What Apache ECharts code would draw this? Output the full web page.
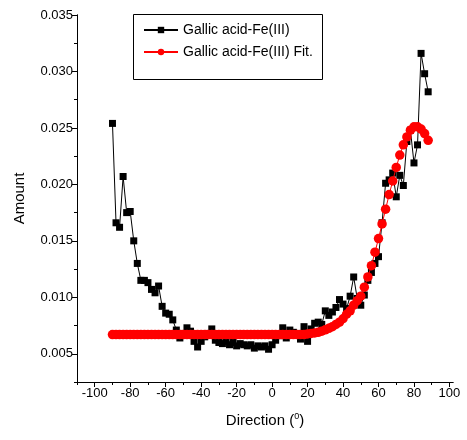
<!DOCTYPE html>
<html>
<head>
<meta charset="utf-8">
<script src="https://cdn.jsdelivr.net/npm/echarts@6/dist/echarts.min.js"></script>
<style>html,body{margin:0;padding:0;background:#fff}#c{width:467px;height:440px}</style>
</head>
<body>
<div id="c"></div>
<script>
// Direction values (degrees)
var directions = [];
for (var d = -90; d <= 88; d += 2) directions.push(d);

// Measured amounts, one per direction (-90 .. 88 step 2)
var measured = [
  0.0254, 0.0166, 0.0162, 0.0207, 0.0175, 0.0176, 0.0150, 0.0130, 0.0115, 0.0115,
  0.0113, 0.0107, 0.0104, 0.0110, 0.0092, 0.0086, 0.0085, 0.0080, 0.0071, 0.0064,
  0.0068, 0.0073, 0.0070, 0.0061, 0.0056, 0.0061, 0.0065, 0.0068, 0.0072, 0.0062,
  0.0060, 0.0059, 0.0061, 0.0058, 0.0060, 0.0057, 0.0059, 0.0058, 0.0057, 0.0058,
  0.0055, 0.0057, 0.0056, 0.0057, 0.0054, 0.0058, 0.0062, 0.0066, 0.0073, 0.0064,
  0.0071, 0.0069, 0.0068, 0.0063, 0.0074, 0.0061, 0.0072, 0.0077, 0.0078, 0.0076,
  0.0088, 0.0084, 0.0087, 0.0091, 0.0098, 0.0094, 0.0090, 0.0101, 0.0118, 0.0099,
  0.0093, 0.0102, 0.0115, 0.0122, 0.0130, 0.0136, 0.0166, 0.0201, 0.0204, 0.0210,
  0.0189, 0.0208, 0.0199, 0.0238, 0.0248, 0.0219, 0.0235, 0.0316, 0.0298, 0.0282
];

// Fitted amounts, one per direction (-90 .. 88 step 2)
var fitted = [
  0.0067, 0.0067, 0.0067, 0.0067, 0.0067, 0.0067, 0.0067, 0.0067, 0.0067, 0.0067,
  0.0067, 0.0067, 0.0067, 0.0067, 0.0067, 0.0067, 0.0067, 0.0067, 0.0067, 0.0067,
  0.0067, 0.0067, 0.0067, 0.0067, 0.0067, 0.0067, 0.0067, 0.0067, 0.0067, 0.0067,
  0.0067, 0.0067, 0.0067, 0.0067, 0.0067, 0.0067, 0.0067, 0.0067, 0.0067, 0.0067,
  0.0067, 0.0067, 0.0067, 0.0067, 0.0067, 0.0067, 0.0067, 0.0067, 0.0067, 0.0067,
  0.0067, 0.0067, 0.0067, 0.0067, 0.0067, 0.00675, 0.0068, 0.00685, 0.0069, 0.0070,
  0.00712, 0.00725, 0.0074, 0.0076, 0.0078, 0.0081, 0.0085, 0.0088, 0.0093, 0.0097,
  0.0101, 0.0109, 0.0118, 0.0128, 0.0140, 0.0152, 0.0165, 0.0178, 0.0191, 0.0203,
  0.0215, 0.0226, 0.0235, 0.0242, 0.0248, 0.0251, 0.0251, 0.0249, 0.0245, 0.0239
];

var xMajorTicks = [-100, -80, -60, -40, -20, 0, 20, 40, 60, 80, 100];
var xMinorTicks = [-110, -90, -70, -50, -30, -10, 10, 30, 50, 70, 90];
var yMajorTicks = [0.005, 0.010, 0.015, 0.020, 0.025, 0.030, 0.035];
var yMinorTicks = [0.0025, 0.0075, 0.0125, 0.0175, 0.0225, 0.0275, 0.0325];

var seriesNames = ['Gallic acid-Fe(III)', 'Gallic acid-Fe(III) Fit.'];

function pairs(ys) { return directions.map(function (x, i) { return [x, ys[i]]; }); }

var FONT = '"Liberation Sans", Arial, sans-serif';
var XMIN = -110, XMAX = 102, YMIN = 0.0025, YMAX = 0.035;

var chart = echarts.init(document.getElementById('c'), null, { renderer: 'canvas' });
chart.setOption({
  animation: false,
  backgroundColor: '#fff',
  textStyle: { fontFamily: FONT },
  grid: { left: 77, right: 14, top: 15, bottom: 58 },
  graphic: [{
    type: 'rect', left: 133, top: 14, z: 100,
    shape: { width: 189, height: 65 },
    style: { fill: 'rgba(0,0,0,0)', stroke: '#000', lineWidth: 1 }
  }],
  legend: {
    orient: 'vertical', left: 143, top: 23, padding: 0,
    itemWidth: 34, itemHeight: 8, itemGap: 8,
    textStyle: { fontFamily: FONT, fontSize: 14, color: '#000' },
    data: seriesNames
  },
  xAxis: [{
    type: 'value', min: XMIN, max: XMAX, position: 'bottom',
    axisLine: { show: true, onZero: false, lineStyle: { color: '#000', width: 1 } },
    axisTick: { show: true, length: 5, lineStyle: { color: '#000' }, customValues: xMajorTicks },
    axisLabel: { customValues: xMajorTicks, fontFamily: FONT, fontSize: 13, color: '#000', margin: 5 },
    splitLine: { show: false },
    name: 'Direction ({sup|0})', nameLocation: 'middle', nameGap: 30,
    nameTextStyle: {
      fontFamily: FONT, fontSize: 15, color: '#000',
      rich: { sup: { fontFamily: FONT, fontSize: 9, color: '#000', verticalAlign: 'top', padding: [0, 0, 8, 0] } }
    }
  }, {
    type: 'value', min: XMIN, max: XMAX, position: 'bottom',
    axisLine: { show: true, onZero: false, lineStyle: { color: '#000', width: 1 } },
    axisTick: { show: true, length: 3, lineStyle: { color: '#000' }, customValues: xMinorTicks },
    axisLabel: { show: false },
    splitLine: { show: false }
  }],
  yAxis: [{
    type: 'value', min: YMIN, max: YMAX, position: 'left',
    axisLine: { show: true, onZero: false, lineStyle: { color: '#000', width: 1 } },
    axisTick: { show: true, length: 5, lineStyle: { color: '#000' }, customValues: yMajorTicks },
    axisLabel: {
      customValues: yMajorTicks, fontFamily: FONT, fontSize: 13, color: '#000', margin: 4,
      formatter: function (v) { return v.toFixed(3); }
    },
    splitLine: { show: false },
    name: 'Amount', nameLocation: 'middle', nameGap: 50,
    nameTextStyle: { fontFamily: FONT, fontSize: 15, color: '#000' }
  }, {
    type: 'value', min: YMIN, max: YMAX, position: 'left',
    axisLine: { show: true, onZero: false, lineStyle: { color: '#000', width: 1 } },
    axisTick: { show: true, length: 3, lineStyle: { color: '#000' }, customValues: yMinorTicks },
    axisLabel: { show: false },
    splitLine: { show: false }
  }],
  series: [{
    name: seriesNames[0], type: 'line', xAxisIndex: 0, yAxisIndex: 0,
    data: pairs(measured),
    symbol: 'rect', symbolSize: 7, showAllSymbol: true,
    itemStyle: { color: '#000' },
    lineStyle: { color: '#000', width: 1 },
    z: 2
  }, {
    name: seriesNames[1], type: 'line', xAxisIndex: 0, yAxisIndex: 0,
    data: pairs(fitted),
    symbol: 'circle', symbolSize: 9.5, showAllSymbol: true,
    itemStyle: { color: '#ff0000' },
    lineStyle: { color: '#ff0000', width: 1 },
    z: 3
  }]
});
</script>
</body>
</html>
